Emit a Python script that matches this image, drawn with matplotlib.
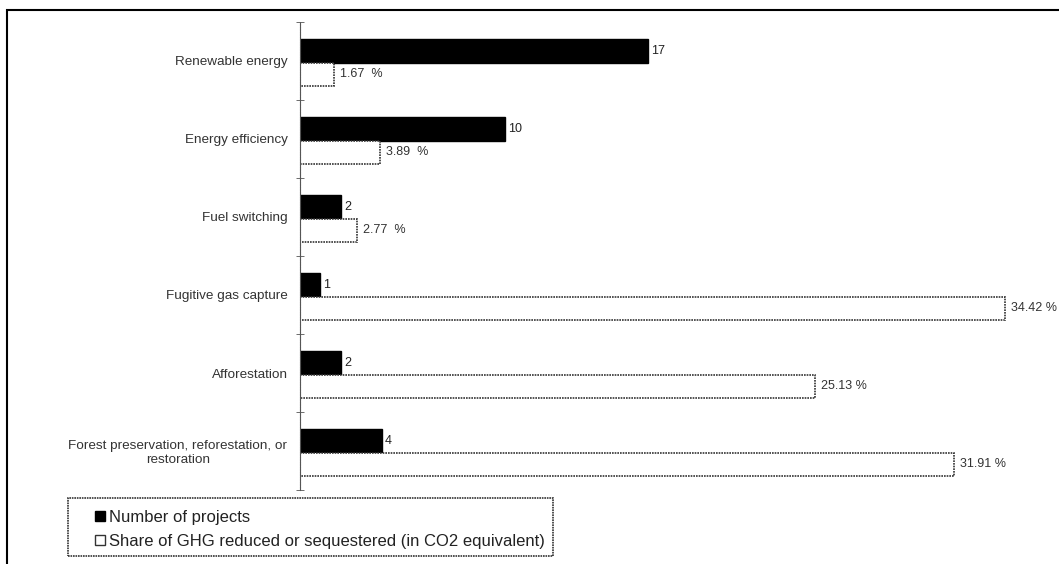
import matplotlib.pyplot as plt
from matplotlib.patches import Rectangle, Patch

categories = ["Renewable energy", "Energy efficiency", "Fuel switching",
              "Fugitive gas capture", "Afforestation",
              "Forest preservation, reforestation, or\nrestoration"]
projects = [17, 10, 2, 1, 2, 4]
ghg_share = [1.67, 3.89, 2.77, 34.42, 25.13, 31.91]
share_labels = ["1.67  %", "3.89  %", "2.77  %", "34.42 %", "25.13 %", "31.91 %"]

plt.rcParams['font.family'] = ['Liberation Sans', 'DejaVu Sans']

fig = plt.figure(figsize=(10.59, 5.64), dpi=100)
ax = fig.add_axes([300 / 1059, 1 - 490 / 564, 760 / 1059, 468 / 564])

pos = list(range(len(categories)))
h = 0.3
ax.barh([p - h / 2 + 0.02 for p in pos], projects, height=h,
        color='black', edgecolor='black')
ax.barh([p + h / 2 + 0.02 for p in pos], ghg_share, height=h,
        color='white', edgecolor='#333333', linestyle=(0, (1, 0.6)), lw=1.2)

for p, v in zip(pos, projects):
    ax.text(v + 0.15, p - h / 2 + 0.02, str(v), va='center', ha='left',
            fontsize=9, color='#222222')
for p, v, s in zip(pos, ghg_share, share_labels):
    ax.text(v + 0.3, p + h / 2 + 0.02, s, va='center', ha='left',
            fontsize=9, color='#333333')

ax.set_xlim(0, 37.1)
ax.set_ylim(len(categories) - 0.5, -0.5)
ax.set_yticks(pos)
ax.set_yticklabels(categories, fontsize=9.7, color='#333333',
                   multialignment='center')
ax.tick_params(axis='y', length=0, pad=9)
ax.set_yticks([p - 0.5 for p in range(len(categories) + 1)], minor=True)
ax.tick_params(axis='y', which='minor', length=6, direction='inout',
               color='#555555')
ax.set_xticks([])
for side in ['top', 'right', 'bottom']:
    ax.spines[side].set_visible(False)
ax.spines['left'].set_color('#555555')
ax.spines['left'].set_linestyle((0, (1, 0.5)))

handles = [Patch(facecolor='black', edgecolor='black'),
           Patch(facecolor='white', edgecolor='#333333')]
leg = fig.legend(handles, ["Number of projects",
                           "Share of GHG reduced or sequestered (in CO2 equivalent)"],
                 loc='upper left', bbox_to_anchor=(87 / 1059, 1 - 502 / 564),
                 fontsize=12, frameon=False, handlelength=0.55, handleheight=0.55,
                 handletextpad=0.25, borderpad=0.0, labelspacing=0.5)
for t in leg.get_texts():
    t.set_color('#222222')

# legend box
fig.patches.append(Rectangle((68 / 1059, 1 - 556 / 564), 485 / 1059, 58 / 564,
                             transform=fig.transFigure, fill=False,
                             edgecolor='#333333', lw=1.2, linestyle=(0, (1, 0.5))))
# outer frame
fig.patches.append(Rectangle((7 / 1059, -0.05), 1.1, 1 - 10 / 564 + 0.05,
                             transform=fig.transFigure, fill=False,
                             edgecolor='black', lw=1.5))

fig.savefig("out.png", dpi=100)
